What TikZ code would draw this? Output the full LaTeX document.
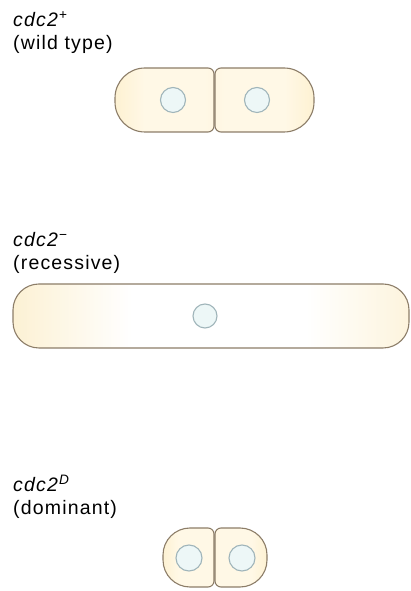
\documentclass[tikz,border=0pt]{standalone}
\usepackage{fontspec}
\setmainfont{Liberation Sans}[LetterSpace=6]

\definecolor{cellyellow}{HTML}{FAE6B2}
\definecolor{celllight}{HTML}{FFF8E6}
\definecolor{celledge}{HTML}{8C7D68}
\definecolor{nucfill}{HTML}{EDF7F7}
\definecolor{nucedge}{HTML}{A0B5BA}

% colour runs across each cell from left to right
\pgfdeclarehorizontalshading{leftcell}{100bp}{color(0bp)=(cellyellow); color(40bp)=(celllight); color(70bp)=(celllight); color(100bp)=(cellyellow!55!celllight)}
\pgfdeclarehorizontalshading{rightcell}{100bp}{color(0bp)=(cellyellow!55!celllight); color(30bp)=(celllight); color(60bp)=(celllight); color(100bp)=(cellyellow)}
\pgfdeclarehorizontalshading{longcell}{100bp}{color(0bp)=(cellyellow); color(20bp)=(cellyellow!75!white); color(40bp)=(white); color(62bp)=(white); color(84bp)=(cellyellow!75!white); color(100bp)=(cellyellow)}

% outline of a cell: #1 left x, #2 right x, #3 bottom y, #4 top y,
% #5 radius of the left corners, #6 radius of the right corners
\newcommand{\cellpath}[6]{%
  (#2,#4-#6) arc[start angle=0,end angle=90,radius=#6pt]
  -- (#1+#5,#4) arc[start angle=90,end angle=180,radius=#5pt]
  -- (#1,#3+#5) arc[start angle=180,end angle=270,radius=#5pt]
  -- (#2-#6,#3) arc[start angle=270,end angle=360,radius=#6pt] -- cycle}

\tikzset{
  cellwall/.style={draw=celledge, line width=1.1pt},
  nucleus/.style={draw=nucedge, fill=nucfill, line width=1.1pt},
  label/.style={anchor=base west, inner sep=0pt, font=\fontsize{19.5}{23}\selectfont},
}

\begin{document}
\begin{tikzpicture}[x=1pt,y=1pt]
\useasboundingbox (0,0) rectangle (410,591);

% wild type: two daughter cells after division
\node[label] (wtname) at (13,564) {\textit{cdc2}\textsuperscript{+}};
\node[label] (wttype) at (13,541) {(wild type)};
\path[cellwall, shading=leftcell] \cellpath{115}{214}{459}{523}{30}{6};
\path[cellwall, shading=rightcell] \cellpath{215}{314}{459}{523}{6}{30};
\draw[nucleus] (173,491) circle[radius=12.5pt];
\draw[nucleus] (257,491) circle[radius=12.5pt];

% recessive: one elongated cell
\node[label] (recname) at (13,344) {\textit{cdc2}\textsuperscript{−}};
\node[label] (rectype) at (13,321) {(recessive)};
\path[cellwall, shading=longcell] \cellpath{13}{409}{243}{307}{26}{26};
\draw[nucleus] (205,275) circle[radius=12pt];

% dominant: two small cells
\node[label] (domname) at (13,99) {\textit{cdc2}\textsuperscript{\itshape D}};
\node[label] (domtype) at (13,76) {(dominant)};
\path[cellwall, shading=leftcell] \cellpath{163}{214}{4}{63}{27}{6};
\path[cellwall, shading=rightcell] \cellpath{215}{267}{4}{63}{6}{27};
\draw[nucleus] (189,33) circle[radius=13pt];
\draw[nucleus] (242,33) circle[radius=13pt];
\end{tikzpicture}
\end{document}
